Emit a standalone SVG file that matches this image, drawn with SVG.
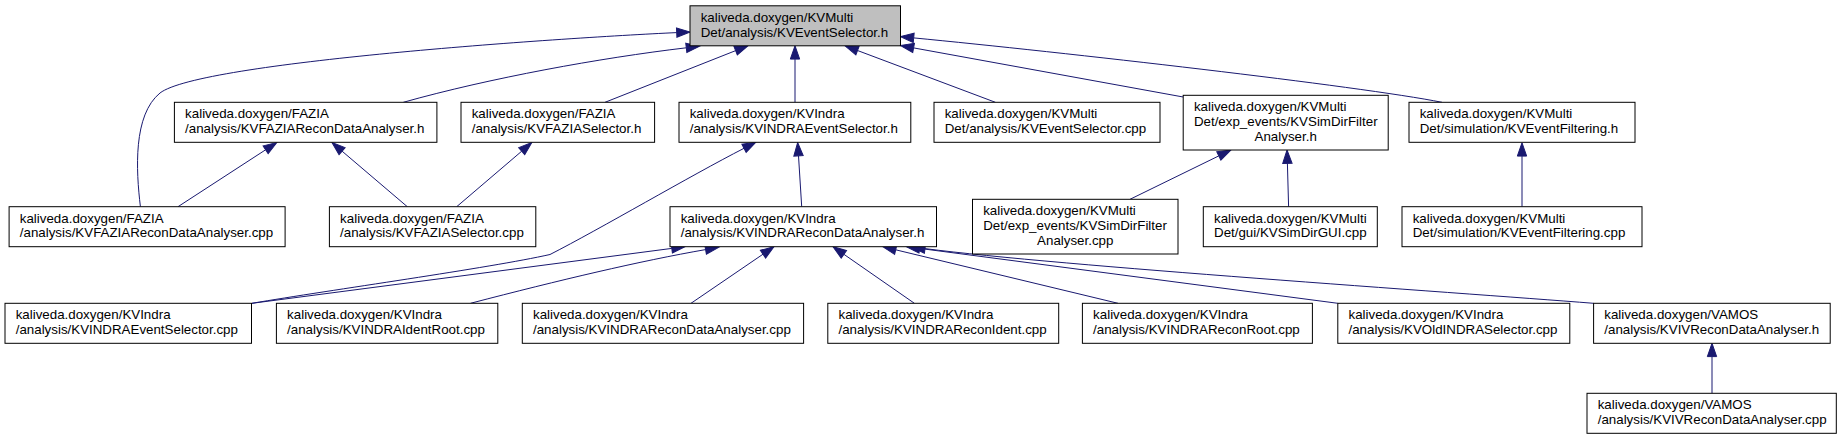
<svg xmlns="http://www.w3.org/2000/svg" width="1843" height="439" viewBox="0 0 1843 439">
<style>
.n rect{fill:#fff;stroke:#000;stroke-width:1}
.n.root rect{fill:#bfbfbf}
.n text{font-family:"Liberation Sans",Arial,sans-serif;font-size:13.33px;fill:#000}
.n text.c{text-anchor:middle}
.e path{fill:none;stroke:#191970;stroke-width:1;marker-end:url(#ah)}
</style>
<defs>
<marker id="ah" markerUnits="userSpaceOnUse" markerWidth="16" markerHeight="12" refX="0" refY="0" viewBox="-1 -6 16 12" orient="auto" overflow="visible">
<path d="M0,-4.67 L13.33,0 L0,4.67 Z" fill="#191970" stroke="#191970" stroke-width="1"/>
</marker>
</defs>
<rect width="1843" height="439" fill="#fff"/>
<g id="edges" class="e">
<path d="M140.4,206.7 C136,170 133,115 160,93 C200,62 560,38 676.7,32.6"/>
<path d="M403.3,102.3 C490,78 600,58 686.3,47.8"/>
<path d="M605,102.3 L735.6,50.65"/>
<path d="M795,102.3 L795,59.1"/>
<path d="M995.4,102.3 L857.5,50.5"/>
<path d="M1183.2,97 L913.6,47.9"/>
<path d="M1442,102.3 C1360,86 1060,52 913.7,37.9"/>
<path d="M178,206.7 L265.6,149.8"/>
<path d="M407.3,206.7 L342.1,151.2"/>
<path d="M456.7,206.7 L521.7,151.2"/>
<path d="M252,303.3 C330,290 490,268 550,254.5 C600,229 690,176 744,148.3"/>
<path d="M801.7,206.7 L798.5,155.8"/>
<path d="M1130,199.3 L1218.8,155.9"/>
<path d="M1288.6,206.7 L1287.4,163.3"/>
<path d="M1522,206.7 L1522,156.1"/>
<path d="M252,303.3 L671.8,248.4"/>
<path d="M470.5,303.3 C560,280 640,261 705.6,249.6"/>
<path d="M691,303.3 L763,254.2"/>
<path d="M914.4,303.3 L843.9,254.3"/>
<path d="M1118,303.3 L895.7,249.8"/>
<path d="M1337.8,303.3 L919.6,248.4"/>
<path d="M1593.6,303.3 C1450,292 1060,266 925,248.6"/>
<path d="M1712,393.3 L1712,356.6"/>
</g>
<g id="root" class="n root"><rect x="690" y="5.8" width="210.5" height="40"/><text x="700.7" y="21.8">kaliveda.doxygen/KVMulti</text><text x="700.7" y="36.5">Det/analysis/KVEventSelector.h</text></g>
<g id="fazia_recon_h" class="n"><rect x="174.4" y="102.3" width="262.5" height="40"/><text x="185.1" y="118.3">kaliveda.doxygen/FAZIA</text><text x="185.1" y="133">/analysis/KVFAZIAReconDataAnalyser.h</text></g>
<g id="fazia_sel_h" class="n"><rect x="461" y="102.3" width="193.6" height="40"/><text x="471.7" y="118.3">kaliveda.doxygen/FAZIA</text><text x="471.7" y="133">/analysis/KVFAZIASelector.h</text></g>
<g id="indra_evsel_h" class="n"><rect x="679" y="102.3" width="231.8" height="40"/><text x="689.7" y="118.3">kaliveda.doxygen/KVIndra</text><text x="689.7" y="133">/analysis/KVINDRAEventSelector.h</text></g>
<g id="evsel_cpp" class="n"><rect x="934" y="102.3" width="226" height="40"/><text x="944.7" y="118.3">kaliveda.doxygen/KVMulti</text><text x="944.7" y="133">Det/analysis/KVEventSelector.cpp</text></g>
<g id="simdir_h" class="n"><rect x="1183.2" y="95.3" width="205" height="54.7"/><text x="1193.9" y="111.3">kaliveda.doxygen/KVMulti</text><text x="1193.9" y="126">Det/exp_events/KVSimDirFilter</text><text class="c" x="1285.7" y="140.6">Analyser.h</text></g>
<g id="evfilt_h" class="n"><rect x="1409" y="102.3" width="226" height="40"/><text x="1419.7" y="118.3">kaliveda.doxygen/KVMulti</text><text x="1419.7" y="133">Det/simulation/KVEventFiltering.h</text></g>
<g id="fazia_recon_cpp" class="n"><rect x="9.1" y="206.7" width="276" height="40"/><text x="19.8" y="222.7">kaliveda.doxygen/FAZIA</text><text x="19.8" y="237.4">/analysis/KVFAZIAReconDataAnalyser.cpp</text></g>
<g id="fazia_sel_cpp" class="n"><rect x="329.4" y="206.7" width="206.4" height="40"/><text x="340.1" y="222.7">kaliveda.doxygen/FAZIA</text><text x="340.1" y="237.4">/analysis/KVFAZIASelector.cpp</text></g>
<g id="indra_recon_h" class="n"><rect x="670" y="206.7" width="266.5" height="40"/><text x="680.7" y="222.7">kaliveda.doxygen/KVIndra</text><text x="680.7" y="237.4">/analysis/KVINDRAReconDataAnalyser.h</text></g>
<g id="simdir_cpp" class="n"><rect x="972.5" y="199.3" width="205.5" height="54.7"/><text x="983.2" y="215.3">kaliveda.doxygen/KVMulti</text><text x="983.2" y="230">Det/exp_events/KVSimDirFilter</text><text class="c" x="1075.25" y="244.6">Analyser.cpp</text></g>
<g id="simdirgui_cpp" class="n"><rect x="1203.3" y="206.7" width="174" height="40"/><text x="1214" y="222.7">kaliveda.doxygen/KVMulti</text><text x="1214" y="237.4">Det/gui/KVSimDirGUI.cpp</text></g>
<g id="evfilt_cpp" class="n"><rect x="1402" y="206.7" width="240" height="40"/><text x="1412.7" y="222.7">kaliveda.doxygen/KVMulti</text><text x="1412.7" y="237.4">Det/simulation/KVEventFiltering.cpp</text></g>
<g id="indra_evsel_cpp" class="n"><rect x="5" y="303.3" width="246.5" height="40"/><text x="15.7" y="319.3">kaliveda.doxygen/KVIndra</text><text x="15.7" y="334">/analysis/KVINDRAEventSelector.cpp</text></g>
<g id="indra_identroot_cpp" class="n"><rect x="276.4" y="303.3" width="221.4" height="40"/><text x="287.1" y="319.3">kaliveda.doxygen/KVIndra</text><text x="287.1" y="334">/analysis/KVINDRAIdentRoot.cpp</text></g>
<g id="indra_recon_cpp" class="n"><rect x="522.3" y="303.3" width="281.3" height="40"/><text x="533" y="319.3">kaliveda.doxygen/KVIndra</text><text x="533" y="334">/analysis/KVINDRAReconDataAnalyser.cpp</text></g>
<g id="indra_reconident_cpp" class="n"><rect x="827.8" y="303.3" width="230.9" height="40"/><text x="838.5" y="319.3">kaliveda.doxygen/KVIndra</text><text x="838.5" y="334">/analysis/KVINDRAReconIdent.cpp</text></g>
<g id="indra_reconroot_cpp" class="n"><rect x="1082.4" y="303.3" width="230" height="40"/><text x="1093.1" y="319.3">kaliveda.doxygen/KVIndra</text><text x="1093.1" y="334">/analysis/KVINDRAReconRoot.cpp</text></g>
<g id="oldindra_sel_cpp" class="n"><rect x="1337.8" y="303.3" width="232" height="40"/><text x="1348.5" y="319.3">kaliveda.doxygen/KVIndra</text><text x="1348.5" y="334">/analysis/KVOldINDRASelector.cpp</text></g>
<g id="iv_recon_h" class="n"><rect x="1593.6" y="303.3" width="236.6" height="40"/><text x="1604.3" y="319.3">kaliveda.doxygen/VAMOS</text><text x="1604.3" y="334">/analysis/KVIVReconDataAnalyser.h</text></g>
<g id="iv_recon_cpp" class="n"><rect x="1587" y="393.3" width="249.3" height="40"/><text x="1597.7" y="409.3">kaliveda.doxygen/VAMOS</text><text x="1597.7" y="424">/analysis/KVIVReconDataAnalyser.cpp</text></g>
</svg>
